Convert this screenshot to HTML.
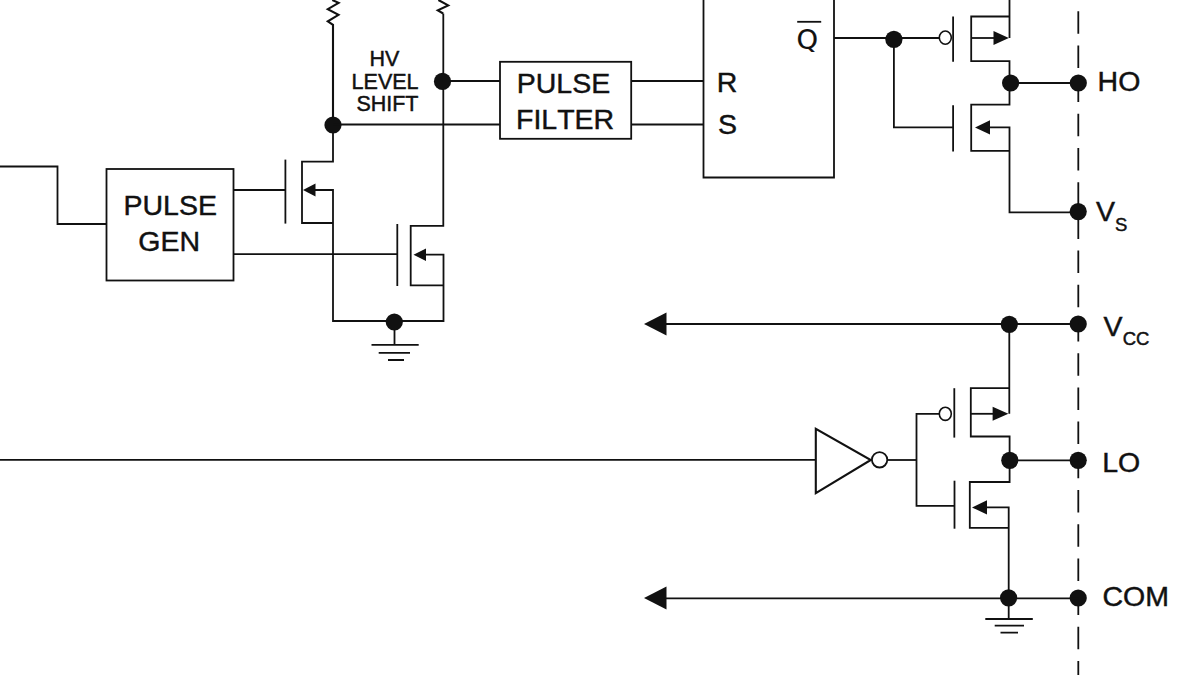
<!DOCTYPE html>
<html lang="en">
<head>
<meta charset="utf-8">
<title>Gate driver block diagram</title>
<style>
html,body{margin:0;padding:0;background:#fff;}
body{width:1200px;height:675px;overflow:hidden;}
svg{display:block;}
text{font-family:"Liberation Sans",Arial,sans-serif;fill:#111;stroke:#111;stroke-width:0.45;font-kerning:none;}
.w{fill:none;stroke:#111;stroke-width:1.8;stroke-linecap:butt;stroke-linejoin:miter;}
.d{fill:#111;stroke:none;}
.a{fill:#111;stroke:none;}
.b{fill:#fff;stroke:#111;stroke-width:1.6;}
</style>
</head>
<body>
<svg width="1200" height="675" viewBox="0 0 1200 675">
<rect width="1200" height="675" fill="#fff"/>

<!-- input to pulse gen -->
<path class="w" d="M0 166.5H57.5V224H106.5"/>
<rect class="w" x="106.5" y="169" width="127" height="111.5"/>
<text x="123.5" y="215.1" font-size="28.5">PULSE</text>
<text x="138.3" y="250.9" font-size="28.5">GEN</text>

<!-- pulse gen outputs -->
<path class="w" d="M233.5 190H285.4"/>
<path class="w" d="M233.5 254.2H397.3"/>

<!-- level shift mosfet 1 -->
<path class="w" d="M285.4 159.6V223.6"/>
<path class="w" d="M333 125V161.6H302V223H333"/>
<path class="w" d="M314 190H333V321H443.5V254.7H424"/>
<path class="a" d="M303 190L315.5 183.5V196.5Z"/>

<!-- level shift mosfet 2 -->
<path class="w" d="M397.3 224V286"/>
<path class="w" d="M443.3 13.4V225.9H410.7V285.3H443.5"/>
<path class="a" d="M413.5 254.7L426 248.5V261Z"/>

<!-- resistors -->
<path class="w" d="M332.3 0L338.6 2.9L327.8 9.1L338.5 14.9L327.8 21.3L333 24.8V125" style="stroke-width:2.1"/>
<path class="w" d="M438.4 0L448.2 5.4L437.8 10.4L443.2 13.5" style="stroke-width:2.1"/>

<!-- ground 1 -->
<path class="w" d="M394.5 322V344.8M371.5 344.8H418.7M378.7 352.8H410M388 360H404"/>
<circle class="d" cx="394.3" cy="322" r="8.6"/>

<!-- nodes -->
<circle class="d" cx="333" cy="125" r="8.6"/>
<circle class="d" cx="442.5" cy="81.4" r="8.6"/>
<path class="w" d="M442.5 81H500M333 124.5H500"/>

<text x="369.5" y="66.1" font-size="21.5">HV</text>
<text x="351.6" y="88.8" font-size="21.5">LEVEL</text>
<text x="356.4" y="111.3" font-size="21.5">SHIFT</text>

<!-- pulse filter -->
<rect class="w" x="500" y="61.8" width="131.2" height="77"/>
<text x="516.7" y="93.1" font-size="28.5">PULSE</text>
<text x="516" y="128.9" font-size="28.5">FILTER</text>
<path class="w" d="M631.2 81H703.5M631.2 124.5H703.5"/>

<!-- latch -->
<path class="w" d="M703.5 0V177.5H834V0"/>
<text x="716.7" y="91.6" font-size="28.5">R</text>
<text x="718" y="134.2" font-size="28.5">S</text>
<text x="796.6" y="48.8" font-size="26.7" textLength="21.6" lengthAdjust="spacingAndGlyphs" style="font-family:'DejaVu Sans','Liberation Sans',sans-serif;stroke-width:0.2">Q</text>
<path class="w" d="M797.2 21.8H821.2"/>

<!-- Q output -->
<path class="w" d="M834 38H939M893.9 38V127.4H953.1"/>
<circle class="d" cx="893.9" cy="39.4" r="8.6"/>
<ellipse class="b" cx="945.3" cy="37.6" rx="6" ry="6.6"/>

<!-- high side pmos -->
<path class="w" d="M953.1 16.5V61.8"/>
<path class="w" d="M1009.5 0V38M1009.5 16.5H971.2V61.2H1009.5V104.6H971.2V150.9H1009.5"/>
<path class="w" d="M971.2 38H995"/>
<path class="a" d="M1008.8 38L993.5 31V45Z"/>
<!-- high side nmos -->
<path class="w" d="M953.1 105.2V151.5"/>
<path class="w" d="M988 127.4H1009.5V212.4H1078.3"/>
<path class="a" d="M975 127.4L990 120.3V134.5Z"/>
<path class="w" d="M1010 83H1078.3"/>
<circle class="d" cx="1010.6" cy="83" r="8.6"/>

<!-- dashed pin line -->
<path class="w" d="M1078.3 11.2V675" stroke-dasharray="22.5 11.7"/>
<circle class="d" cx="1078.3" cy="83" r="8.6"/>
<circle class="d" cx="1078.2" cy="211.6" r="8.6"/>
<circle class="d" cx="1078.2" cy="324" r="8.6"/>
<circle class="d" cx="1078.2" cy="460.3" r="8.6"/>
<circle class="d" cx="1078.2" cy="598" r="8.6"/>

<text x="1097.6" y="91.4" font-size="28.5">HO</text>
<text x="1096" y="221.1" font-size="28.5">V</text>
<text x="1115" y="230.7" font-size="18.5">S</text>
<text x="1103.6" y="336.3" font-size="28.5">V</text>
<text x="1122.7" y="345.1" font-size="18.5">CC</text>
<text x="1102.2" y="471.8" font-size="28.5">LO</text>
<text x="1102.5" y="605.6" font-size="28.5">COM</text>

<!-- VCC rail -->
<path class="w" d="M665 324H1078.3"/>
<path class="a" d="M644 324L666.5 312.6V335.6Z"/>
<circle class="d" cx="1009.3" cy="324.3" r="8.6"/>

<!-- low side pmos -->
<path class="w" d="M954.3 388.2V437.6"/>
<path class="w" d="M1009.3 324V413.8M1009.3 388.2H970.8V436.5H1009.6V482H969.8V527.9H1008.7"/>
<path class="w" d="M970.8 413.8H994"/>
<path class="a" d="M1008.4 413.8L992.6 406.8V420.8Z"/>
<ellipse class="b" cx="945.3" cy="413.8" rx="6" ry="6.6"/>
<path class="w" d="M939 413.8H916.5V505.8H954.5"/>
<!-- low side nmos -->
<path class="w" d="M954.5 480.7V528.7"/>
<path class="w" d="M985.5 507.4H1008.7V618.8"/>
<path class="a" d="M972 507.4L987 500.2V514.6Z"/>
<path class="w" d="M1010 460.3H1078.3"/>
<circle class="d" cx="1009.8" cy="460.3" r="8.6"/>

<!-- inverter -->
<path class="w" d="M0 459.9H815.8"/>
<path class="w" d="M815.8 428.9V493.1L870.8 460Z" style="stroke-width:2.1"/>
<circle class="b" cx="879.6" cy="459.8" r="7.7" style="stroke-width:1.8"/>
<path class="w" d="M887.3 460H916.5"/>

<!-- COM rail -->
<path class="w" d="M665 598.3H1078.3"/>
<path class="a" d="M644 598.1L666.5 586.5V609.5Z"/>
<circle class="d" cx="1008.6" cy="597.8" r="8.6"/>
<path class="w" d="M985.3 619H1032.8M994.7 625.7H1024M1000.5 632.6H1018"/>
</svg>
</body>
</html>
